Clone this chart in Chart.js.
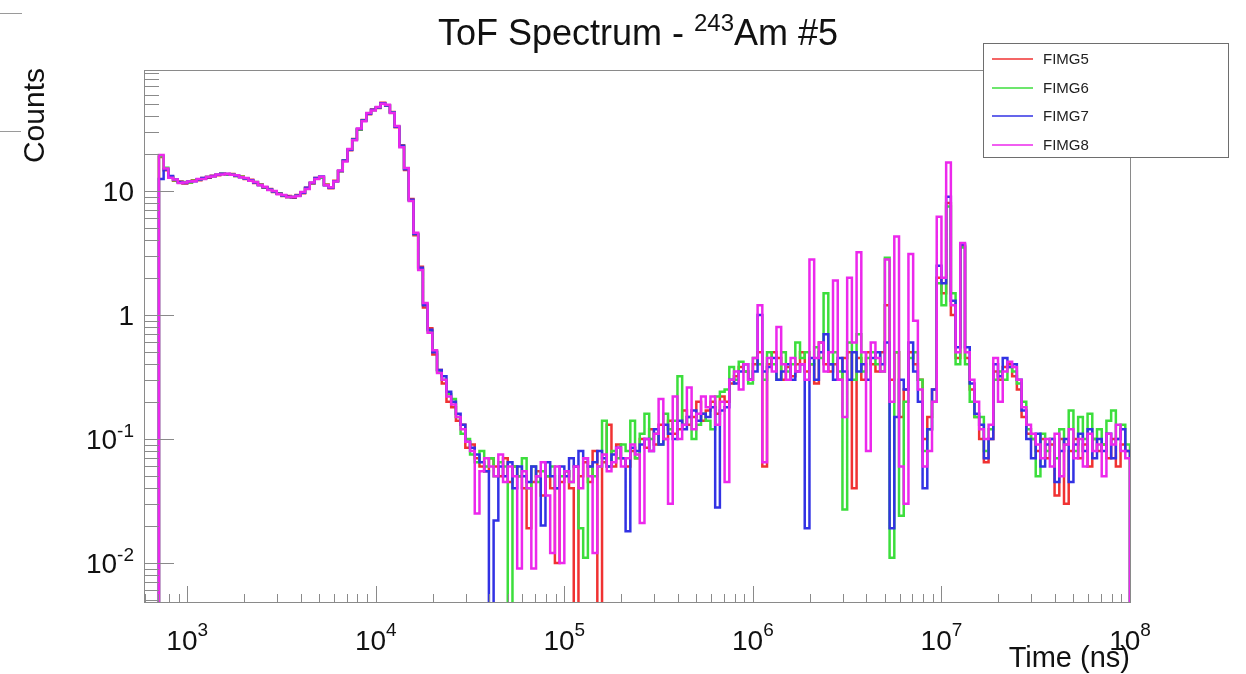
<!DOCTYPE html>
<html>
<head>
<meta charset="utf-8">
<title>ToF Spectrum - 243Am #5</title>
<script src="https://cdn.jsdelivr.net/npm/chart.js@4/dist/chart.umd.min.js"></script>
<style>
  html, body { margin: 0; padding: 0; background: #ffffff; }
  #wrap { width: 1246px; height: 674px; position: relative; background: #ffffff; }
  canvas { display: block; }
</style>
</head>
<body>
<div id="wrap"><canvas id="tof" width="1246" height="674"></canvas></div>
<script>
// ---- Histogram binning: log-spaced bins, last edge at 1e8 ns ----
const BINS_PER_DECADE = 40;
const BIN_COUNT = 206;
const LAST_EDGE_LOG = 8;

// ---- Axis ranges ----
const X_MIN = 590;
const X_MAX = 1e8;
const Y_MIN = 0.00484;
const Y_MAX = 94.6;

// ---- Series ----
const seriesNames = ['FIMG5', 'FIMG6', 'FIMG7', 'FIMG8'];
const seriesColors = ['rgb(240,50,50)', 'rgb(60,222,60)', 'rgb(50,50,228)', 'rgb(236,40,236)'];

// counts per bin (0 = empty bin)
const fimg5 = [
  18.8, 14.7, 13.1, 12.1, 11.9, 11.5, 11.7, 12.2, 12.2, 12.7,
  12.8, 13.3, 13.4, 13.8, 13.6, 13.7, 13.2, 13.1, 12.5, 12.3,
  11.6, 11.3, 10.6, 10.4, 9.8, 9.6, 9.1, 9.1, 8.8, 9.3,
  9.6, 10.6, 11.5, 12.7, 12.8, 11.3, 10.5, 12.1, 14.4, 17.6,
  21.3, 26.3, 31.2, 37.4, 41.6, 45.4, 46.6, 51.4, 48.6, 43.4,
  32.6, 23.4, 14.8, 8.6, 4.4, 2.45, 1.15, 0.78, 0.48, 0.36,
  0.28, 0.2, 0.18, 0.14, 0.13, 0.085, 0.09, 0.07, 0.06, 0.055,
  0.07, 0.06, 0.05, 0.07, 0.045, 0.06, 0.05, 0.04, 0.019, 0.045,
  0.055, 0.035, 0.05, 0.04, 0.01, 0.045, 0.055, 0.04, 0, 0.05,
  0.065, 0.045, 0.08, 0, 0.065, 0.13, 0.06, 0.09, 0.07, 0.06,
  0.08, 0.07, 0.1, 0.085, 0.12, 0.09, 0.13, 0.1, 0.14, 0.11,
  0.12, 0.17, 0.13, 0.15, 0.2, 0.14, 0.17, 0.2, 0.16, 0.22,
  0.2, 0.28, 0.32, 0.38, 0.35, 0.3, 0.4, 0.5, 0.06, 0.4,
  0.5, 0.45, 0.3, 0.38, 0.32, 0.4, 0.5, 0.35, 0.4, 0.28,
  0.6, 0.4, 0.35, 0.4, 0.3, 0.45, 0.5, 0.04, 0.45, 0.3,
  0.5, 0.4, 0.35, 0.5, 1.2, 0.3, 0.5, 0.15, 0.25, 0.5,
  0.4, 0.3, 0.1, 0.15, 0.25, 2.0, 1.5, 8, 1.0, 0.45,
  3.6, 0.45, 0.25, 0.15, 0.1, 0.065, 0.1, 0.35, 0.3, 0.38,
  0.4, 0.32, 0.25, 0.15, 0.11, 0.1, 0.08, 0.1, 0.07, 0.09,
  0.035, 0.1, 0.03, 0.08, 0.1, 0.07, 0.09, 0.06, 0.1, 0.08,
  0.09, 0.07, 0.1, 0.06, 0.09, 0.08
];

const fimg6 = [
  19.1, 15.4, 12.9, 12.2, 11.7, 11.8, 11.7, 12.1, 12.4, 12.6,
  13.0, 13.1, 13.5, 13.7, 13.6, 13.6, 13.2, 13.0, 12.6, 12.1,
  11.8, 11.2, 10.7, 10.3, 9.9, 9.5, 9.2, 8.9, 9.0, 9.2,
  9.7, 10.5, 11.6, 12.6, 12.8, 11.2, 10.6, 12.0, 14.5, 17.5,
  21.6, 26.1, 31.4, 37.1, 42.2, 44.8, 47.2, 50.8, 49.2, 43.1,
  33.2, 23.1, 15.1, 8.4, 4.5, 2.35, 1.22, 0.74, 0.51, 0.35,
  0.3, 0.23, 0.21, 0.15, 0.11, 0.1, 0.075, 0.065, 0.08, 0.06,
  0.07, 0.05, 0.065, 0.06, 0, 0.06, 0.05, 0.07, 0.04, 0.06,
  0.045, 0.055, 0.05, 0.06, 0.04, 0.05, 0.055, 0.045, 0.06, 0.019,
  0.011, 0.06, 0.05, 0.06, 0.14, 0.06, 0.08, 0.07, 0.09, 0.08,
  0.14, 0.07, 0.11, 0.16, 0.1, 0.11, 0.09, 0.16, 0.12, 0.14,
  0.32, 0.13, 0.15, 0.1, 0.13, 0.16, 0.14, 0.12, 0.22, 0.24,
  0.25, 0.38, 0.3, 0.42, 0.35, 0.28, 0.45, 0.4, 0.3, 0.5,
  0.4, 0.3, 0.5, 0.35, 0.4, 0.6, 0.45, 0.5, 0.4, 0.55,
  0.45, 1.5, 0.4, 0.5, 0.35, 0.027, 0.6, 0.3, 0.7, 0.35,
  0.45, 0.5, 0.4, 0.35, 2.9, 0.011, 0.5, 0.024, 0.2, 0.45,
  0.5, 0.3, 0.08, 0.12, 0.2, 1.8, 1.2, 7.5, 1.5, 0.4,
  3.5, 0.4, 0.2, 0.15, 0.15, 0.08, 0.12, 0.3, 0.35, 0.3,
  0.38, 0.35, 0.28, 0.2, 0.12, 0.1, 0.05, 0.11, 0.08, 0.1,
  0.07, 0.12, 0.09, 0.17, 0.08, 0.15, 0.1, 0.16, 0.1, 0.12,
  0.09, 0.14, 0.17, 0.1, 0.13, 0.09
];

const fimg7 = [
  12.5, 14.9, 13.2, 12.4, 11.8, 11.6, 11.9, 12.0, 12.4, 12.7,
  12.9, 13.2, 13.5, 13.8, 13.7, 13.5, 13.3, 12.9, 12.6, 12.2,
  11.7, 11.2, 10.7, 10.3, 9.9, 9.5, 9.2, 9.0, 8.9, 9.2,
  9.7, 10.6, 11.6, 12.7, 13.1, 11.1, 10.6, 12.0, 14.5, 17.6,
  21.5, 26, 31.6, 37, 42, 45.2, 47.1, 51, 49, 43,
  33, 23.2, 15, 8.5, 4.5, 2.4, 1.2, 0.76, 0.5, 0.36,
  0.32, 0.24, 0.2, 0.16, 0.13, 0.095, 0.085, 0.075, 0.065, 0.055,
  0, 0.022, 0.06, 0.05, 0.065, 0.04, 0.06, 0.05, 0.045, 0.06,
  0.05, 0.02, 0.065, 0.05, 0.04, 0.06, 0.05, 0.07, 0.06, 0.08,
  0.07, 0.06, 0.065, 0.08, 0.07, 0.06, 0.075, 0.085, 0.07, 0.018,
  0.085, 0.08, 0.09, 0.1, 0.08, 0.12, 0.09, 0.13, 0.11, 0.1,
  0.14, 0.12, 0.15, 0.17, 0.14, 0.16, 0.15, 0.18, 0.028, 0.17,
  0.18, 0.3, 0.28, 0.35, 0.4, 0.3, 0.35, 1.0, 0.35, 0.38,
  0.45, 0.3, 0.35, 0.4, 0.3, 0.35, 0.4, 0.019, 0.45, 0.3,
  0.5, 0.7, 0.4, 0.3, 0.45, 0.35, 0.3, 0.5, 0.35, 0.4,
  0.3, 0.45, 0.5, 0.4, 0.6, 0.019, 0.15, 0.3, 0.25, 0.6,
  0.35, 0.2, 0.04, 0.12, 0.25, 2.5, 1.8, 9, 1.3, 0.55,
  3.7, 0.55, 0.28, 0.16, 0.13, 0.07, 0.1, 0.4, 0.32, 0.45,
  0.38, 0.4, 0.3, 0.17, 0.1, 0.07, 0.11, 0.06, 0.09, 0.1,
  0.045, 0.08, 0.1, 0.045, 0.09, 0.11, 0.08, 0.12, 0.07, 0.1,
  0.08, 0.11, 0.07, 0.1, 0.12, 0.08
];

const fimg8 = [
  19.5, 15.2, 12.8, 12.4, 11.6, 11.7, 11.9, 12.0, 12.5, 12.5,
  13.0, 13.1, 13.6, 13.6, 13.8, 13.5, 13.4, 12.9, 12.7, 12.1,
  11.8, 11.1, 10.8, 10.2, 10.0, 9.4, 9.3, 8.9, 9.0, 9.1,
  9.8, 10.4, 11.7, 12.5, 13.0, 11.1, 10.7, 11.9, 14.6, 17.3,
  21.8, 25.7, 31.9, 36.5, 42.5, 44.5, 47.5, 50.5, 49.5, 42.5,
  33.5, 22.5, 15.3, 8.3, 4.6, 2.3, 1.25, 0.72, 0.52, 0.34,
  0.3, 0.22, 0.19, 0.15, 0.12, 0.095, 0.08, 0.025, 0.055, 0.07,
  0.06, 0.05, 0.075, 0.045, 0.06, 0.05, 0.009, 0.055, 0.04, 0.009,
  0.05, 0.065, 0.035, 0.012, 0.06, 0.01, 0.055, 0.045, 0.06, 0.04,
  0.07, 0.05, 0.012, 0.06, 0.075, 0.055, 0.065, 0.085, 0.06, 0.07,
  0.09, 0.075, 0.021, 0.1, 0.08, 0.11, 0.21, 0.1, 0.03, 0.22,
  0.1, 0.13, 0.26, 0.12, 0.16, 0.22, 0.18, 0.22, 0.13, 0.2,
  0.045, 0.3, 0.35, 0.25, 0.4, 0.3, 0.45, 1.2, 0.065, 0.45,
  0.35, 0.8, 0.4, 0.3, 0.45, 0.35, 0.4, 0.3, 2.8, 0.45,
  0.6, 0.35, 0.5, 1.9, 0.3, 0.15, 2.0, 0.6, 3.2, 0.5,
  0.08, 0.6, 0.45, 0.35, 2.8, 0.2, 4.3, 0.06, 0.03, 3.1,
  0.9, 0.25, 0.06, 0.08, 0.2, 6.2, 2.0, 17, 1.2, 0.5,
  3.8, 0.5, 0.3, 0.2, 0.12, 0.1, 0.13, 0.45, 0.2, 0.35,
  0.42, 0.38, 0.3, 0.18, 0.13, 0.11, 0.09, 0.07, 0.1, 0.06,
  0.11, 0.05, 0.09, 0.12, 0.07, 0.1, 0.06, 0.11, 0.08, 0.09,
  0.05, 0.11, 0.09, 0.13, 0.08, 0.07
];

const seriesValues = [fimg5, fimg6, fimg7, fimg8];

// ---- Tick labels ----
const xTickValues = [1e3, 1e4, 1e5, 1e6, 1e7, 1e8];
const xTickExponents = ['3', '4', '5', '6', '7', '8'];
const yTickValues = [0.01, 0.1, 1, 10];
const yTickBases = ['10', '10', '1', '10'];
const yTickExponents = ['-2', '-1', '', ''];

// ---- Texts ----
const titleParts = ['ToF Spectrum - ', '243', 'Am #5'];
const xAxisTitle = 'Time (ns)';
const yAxisTitle = 'Counts';

// ---- Style ----
const FONT_FAMILY = '"Liberation Sans", Arial, Helvetica, sans-serif';
const FRAME_COLOR = '#8a8a8a';
const TEXT_COLOR = '#111111';
// empty bins are drawn down past the bottom of the log axis
const EMPTY_BIN_FLOOR = 1e-4;

function fontPx(px) { return px + 'px ' + FONT_FAMILY; }

function binEdges() {
  const edges = [];
  for (let i = 0; i <= BIN_COUNT; i++) {
    edges.push(Math.pow(10, LAST_EDGE_LOG - (BIN_COUNT - i) / BINS_PER_DECADE));
  }
  return edges;
}

// Step outline of a histogram: rises from the floor at the first edge,
// holds each bin value across its bin, drops back at the last edge.
function histogramPoints(values, edges) {
  const lift = v => (v > 0 ? v : EMPTY_BIN_FLOOR);
  const pts = [{ x: edges[0], y: EMPTY_BIN_FLOOR }];
  values.forEach((v, i) => pts.push({ x: edges[i], y: lift(v) }));
  pts.push({ x: edges[values.length], y: EMPTY_BIN_FLOOR });
  return pts;
}

const edges = binEdges();
const datasets = seriesNames.map((name, k) => ({
  label: name,
  data: histogramPoints(seriesValues[k], edges),
  borderColor: seriesColors[k],
  backgroundColor: seriesColors[k],
  borderWidth: 2.5,
  stepped: true,
  fill: false,
  pointRadius: 0,
  borderJoinStyle: 'miter',
  order: seriesNames.length - 1 - k
}));

// text "base" followed by a raised smaller exponent
function drawPower(ctx, base, exp, anchorX, baseline, align, baseSize, expSize, rise) {
  ctx.font = fontPx(baseSize);
  const wb = ctx.measureText(base).width;
  ctx.font = fontPx(expSize);
  const we = exp ? ctx.measureText(exp).width : 0;
  const total = wb + we;
  const x0 = align === 'center' ? anchorX - total / 2 : (align === 'right' ? anchorX - total : anchorX);
  ctx.textAlign = 'left';
  ctx.textBaseline = 'alphabetic';
  ctx.font = fontPx(baseSize);
  ctx.fillText(base, x0, baseline);
  if (exp) {
    ctx.font = fontPx(expSize);
    ctx.fillText(exp, x0 + wb, baseline - rise);
  }
}

function line(ctx, x1, y1, x2, y2) {
  ctx.beginPath();
  ctx.moveTo(x1, y1);
  ctx.lineTo(x2, y2);
  ctx.stroke();
}

const rootFrame = {
  id: 'rootFrame',
  afterDatasetsDraw(chart) {
    const { ctx, chartArea: a, scales: { x, y } } = chart;
    ctx.save();

    // frame
    ctx.strokeStyle = FRAME_COLOR;
    ctx.lineWidth = 1;
    ctx.strokeRect(Math.round(a.left) + 0.5, Math.round(a.top) + 0.5,
      Math.round(a.right - a.left), Math.round(a.bottom - a.top));

    // x ticks (inside, from the bottom edge)
    const xMajorLen = 16, xMinorLen = 8;
    for (let d = Math.floor(Math.log10(X_MIN)); d <= Math.log10(X_MAX); d++) {
      for (let m = 1; m <= 9; m++) {
        const v = m * Math.pow(10, d);
        if (v < X_MIN || v > X_MAX * 1.0001) continue;
        const px = Math.round(x.getPixelForValue(v)) + 0.5;
        line(ctx, px, a.bottom, px, a.bottom - (m === 1 ? xMajorLen : xMinorLen));
      }
    }
    // y ticks (inside, from the left edge)
    const yMajorLen = 30, yMinorLen = 15;
    for (let d = Math.floor(Math.log10(Y_MIN)); d <= Math.log10(Y_MAX); d++) {
      for (let m = 1; m <= 9; m++) {
        const v = m * Math.pow(10, d);
        if (v < Y_MIN || v > Y_MAX) continue;
        const py = Math.round(y.getPixelForValue(v)) + 0.5;
        line(ctx, a.left, py, a.left + (m === 1 ? yMajorLen : yMinorLen), py);
      }
    }

    // tick labels
    ctx.fillStyle = TEXT_COLOR;
    xTickValues.forEach((v, i) => {
      const px = x.getPixelForValue(v);
      drawPower(ctx, '10', xTickExponents[i], px, a.bottom + 48, 'center', 28, 19, 14);
    });
    yTickValues.forEach((v, i) => {
      const py = y.getPixelForValue(v);
      drawPower(ctx, yTickBases[i], yTickExponents[i], a.left - 10, py + 10, 'right', 28, 19, 12);
    });

    // axis titles
    ctx.font = fontPx(29);
    ctx.textAlign = 'right';
    ctx.textBaseline = 'alphabetic';
    ctx.fillText(xAxisTitle, a.right, 667);

    ctx.save();
    ctx.translate(44, 68);
    ctx.rotate(-Math.PI / 2);
    ctx.font = fontPx(30);
    ctx.textAlign = 'right';
    ctx.fillText(yAxisTitle, 0, 0);
    ctx.restore();

    // title
    ctx.font = fontPx(36);
    const w0 = ctx.measureText(titleParts[0]).width;
    const w2 = ctx.measureText(titleParts[2]).width;
    ctx.font = fontPx(24);
    const w1 = ctx.measureText(titleParts[1]).width;
    let tx = 638 - (w0 + w1 + w2) / 2;
    ctx.textAlign = 'left';
    ctx.font = fontPx(36);
    ctx.fillText(titleParts[0], tx, 45);
    tx += w0;
    ctx.font = fontPx(24);
    ctx.fillText(titleParts[1], tx, 31);
    tx += w1;
    ctx.font = fontPx(36);
    ctx.fillText(titleParts[2], tx, 45);

    // small canvas marks at the top-left corner
    ctx.strokeStyle = '#9a9a9a';
    line(ctx, 0, 13.5, 22, 13.5);
    line(ctx, 0, 131.5, 21, 131.5);

    // legend
    const lx = 983.5, ly = 43.5, lw = 245, lh = 114;
    ctx.fillStyle = '#ffffff';
    ctx.fillRect(lx, ly, lw, lh);
    ctx.strokeStyle = '#6e6e6e';
    ctx.lineWidth = 1;
    ctx.strokeRect(lx, ly, lw, lh);
    const rowY = [59, 88, 116, 145];
    seriesNames.forEach((name, k) => {
      ctx.strokeStyle = seriesColors[k];
      ctx.lineWidth = 1.5;
      line(ctx, 992, rowY[k], 1033, rowY[k]);
      ctx.fillStyle = '#222222';
      ctx.font = fontPx(15);
      ctx.textAlign = 'left';
      ctx.textBaseline = 'middle';
      ctx.fillText(name, 1043, rowY[k] + 1);
    });

    ctx.restore();
  }
};

new Chart(document.getElementById('tof'), {
  type: 'line',
  data: { datasets },
  options: {
    responsive: false,
    devicePixelRatio: 1,
    animation: false,
    events: [],
    layout: { padding: { left: 144, top: 70, right: 116, bottom: 72 } },
    scales: {
      x: { type: 'logarithmic', min: X_MIN, max: X_MAX, display: false },
      y: { type: 'logarithmic', min: Y_MIN, max: Y_MAX, display: false }
    },
    plugins: {
      legend: { display: false },
      title: { display: false },
      tooltip: { enabled: false }
    }
  },
  plugins: [rootFrame]
});
</script>
</body>
</html>
